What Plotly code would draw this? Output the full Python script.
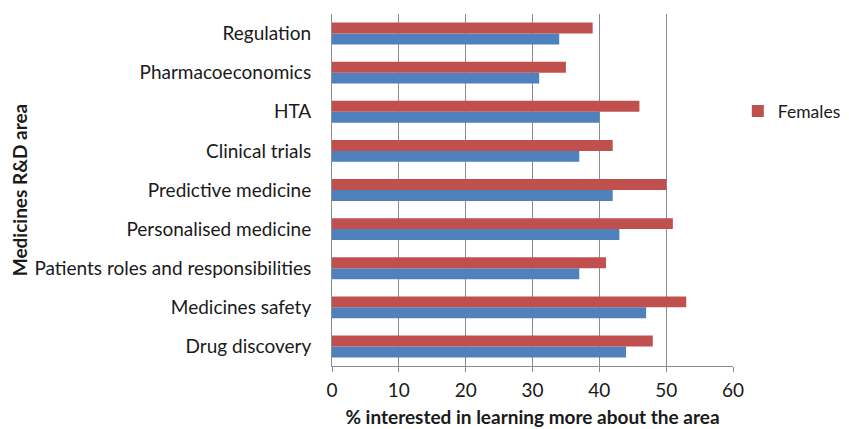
import plotly.graph_objects as go

categories = ["Drug discovery", "Medicines safety", "Patients roles and responsibilities",
              "Personalised medicine", "Predictive medicine", "Clinical trials",
              "HTA", "Pharmacoeconomics", "Regulation"]
males = [44, 47, 37, 43, 42, 37, 40, 31, 34]
females = [48, 53, 41, 51, 50, 42, 46, 35, 39]
x_ticks = [0, 10, 20, 30, 40, 50, 60]

FONT = "Lato"

fig = go.Figure()
fig.add_trace(go.Bar(y=categories, x=males, orientation="h", name="Males",
                     marker=dict(color="#4F81BD", line=dict(width=0)), showlegend=False))
fig.add_trace(go.Bar(y=categories, x=females, orientation="h", name="Females",
                     marker=dict(color="#C0504D", line=dict(width=0))))

# page body has an 8px margin, so the figure is drawn 8px smaller and offset
fig.update_layout(
    width=841, height=421,
    margin=dict(l=324, r=116, t=6, b=63, autoexpand=False),
    paper_bgcolor="white", plot_bgcolor="white",
    barmode="group", bargap=0.44, bargroupgap=0,
    font=dict(family=FONT, size=19, color="#1a1a1a"),
    legend=dict(x=1.012, y=0.724, xanchor="left", yanchor="middle",
                font=dict(size=17.5), itemwidth=30),
    xaxis=dict(range=[0, 60], tickvals=x_ticks, showgrid=True, gridcolor="#8c8c8c", gridwidth=1,
               zeroline=False, showline=True, linecolor="#8c8c8c", ticks="outside",
               ticklen=5, tickcolor="#8c8c8c", automargin=False, ticklabelstandoff=2,
               title=dict(text="<b>% interested in learning more about the area</b>",
                          font=dict(size=19), standoff=10)),
    yaxis=dict(showline=True, linecolor="#8c8c8c", ticks="", ticklen=0, automargin=False,
               ticklabelstandoff=16,
               categoryorder="array", categoryarray=categories,
               title=dict(text="<b>Medicines R&D area</b>", font=dict(size=19), standoff=6)),
)

fig.write_html("out.html")
